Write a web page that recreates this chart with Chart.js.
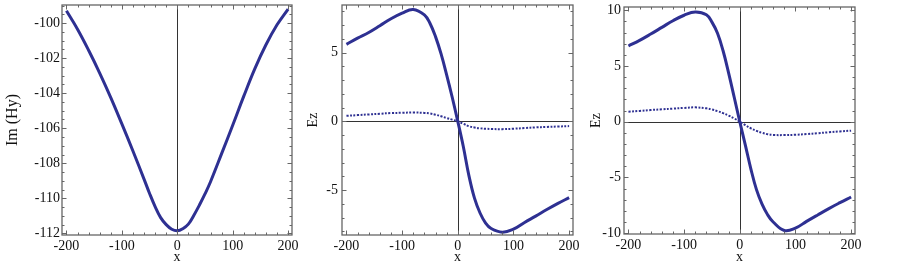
<!DOCTYPE html>
<html>
<head>
<meta charset="utf-8">
<script src="https://cdn.jsdelivr.net/npm/chart.js@4.4.1/dist/chart.umd.min.js"></script>
<style>
  body { margin: 0; background: #fff; }
  #wrap { position: relative; width: 902px; height: 266px; }
  canvas { position: absolute; top: 0; }
</style>
</head>
<body>
<div id="wrap">
  <canvas id="c1" width="300" height="266" style="left:0px"></canvas>
  <canvas id="c2" width="285" height="266" style="left:300px"></canvas>
  <canvas id="c3" width="317" height="266" style="left:585px"></canvas>
</div>
<script>
// positions along the profile
const xs = [-200, -180, -160, -140, -120, -100, -80, -60, -50, -40, -30, -20, -10, 0,
            10, 20, 30, 40, 50, 60, 80, 100, 120, 140, 160, 180, 200]

// panel 1: Im(Hy)
const imHy = [-99.3, -100.35, -101.55, -102.85, -104.25, -105.75, -107.3, -108.9, -109.72, -110.47, -111.1, -111.5, -111.76, -111.85,
              -111.73, -111.47, -110.96, -110.38, -109.75, -109.05, -107.45, -105.83, -104.17, -102.6, -101.24, -100.1, -99.2]

// panel 2: Ez (solid and dotted)
const ezA = [5.6, 6.05, 6.46, 6.95, 7.46, 7.87, 8.14, 7.74, 7.13, 6.16, 4.9, 3.38, 1.75, 0,
             -1.85, -3.95, -5.59, -6.67, -7.4, -7.8, -8.07, -7.85, -7.36, -6.9, -6.42, -5.97, -5.55]
const ezAdot = [0.4, 0.45, 0.5, 0.55, 0.6, 0.62, 0.64, 0.61, 0.57, 0.48, 0.37, 0.24, 0.12, 0,
                -0.18, -0.36, -0.45, -0.51, -0.54, -0.56, -0.57, -0.54, -0.49, -0.44, -0.41, -0.38, -0.35]

// panel 3: Ez (solid and dotted)
const ezB = [6.8, 7.3, 7.87, 8.47, 9.07, 9.56, 9.85, 9.6, 8.94, 7.94, 6.37, 4.37, 2.2, 0,
             -2.1, -4.25, -6.1, -7.4, -8.35, -9.0, -9.76, -9.55, -8.95, -8.37, -7.8, -7.27, -6.76]
const ezBdot = [0.9, 0.97, 1.05, 1.11, 1.18, 1.24, 1.29, 1.2, 1.1, 0.95, 0.77, 0.55, 0.3, 0,
                -0.3, -0.6, -0.82, -1.0, -1.12, -1.19, -1.2, -1.17, -1.11, -1.03, -0.95, -0.87, -0.8]

// ticks
const xTicks = [-200, -100, 0, 100, 200]
const yTicks1 = [-112, -110, -108, -106, -104, -102, -100]
const yTicks2 = [-5, 0, 5]
const yTicks3 = [-10, -5, 0, 5, 10]

const blue = '#2e3092'
const serif = 'Liberation Serif'

const pts = ys => xs.map((x, i) => ({ x: x, y: ys[i] }))

function range(a, b, step) {
  const out = []
  for (let v = a; v <= b + 1e-9; v += step) out.push(+v.toFixed(4))
  return out
}

const framePlugin = {
  id: 'frame',
  beforeDatasetsDraw(chart) {
    const { ctx, chartArea: a, scales: { x, y } } = chart
    ctx.save()
    ctx.strokeStyle = '#333'
    ctx.lineWidth = 1
    ctx.beginPath()
    const px = Math.round(x.getPixelForValue(0)) + 0.5
    ctx.moveTo(px, a.top)
    ctx.lineTo(px, a.bottom)
    if (y.min < 0 && y.max > 0) {
      const py = Math.round(y.getPixelForValue(0)) + 0.5
      ctx.moveTo(a.left, py)
      ctx.lineTo(a.right, py)
    }
    ctx.stroke()
    ctx.restore()
  },
  afterDraw(chart, args, opts) {
    const { ctx, chartArea: a, scales: { x, y } } = chart
    ctx.save()
    ctx.strokeStyle = '#666'
    ctx.lineWidth = 1
    ctx.beginPath()
    const tick = (v, len, horiz) => {
      if (horiz) {
        const p = Math.round(x.getPixelForValue(v)) + 0.5
        ctx.moveTo(p, a.bottom); ctx.lineTo(p, a.bottom - len)
        ctx.moveTo(p, a.top); ctx.lineTo(p, a.top + len)
      } else {
        const p = Math.round(y.getPixelForValue(v)) + 0.5
        ctx.moveTo(a.left, p); ctx.lineTo(a.left + len, p)
        ctx.moveTo(a.right, p); ctx.lineTo(a.right - len, p)
      }
    }
    opts.xMinor.forEach(v => tick(v, 2.5, true))
    xTicks.forEach(v => tick(v, 4.5, true))
    opts.yMinor.forEach(v => tick(v, 2.5, false))
    opts.yMajor.forEach(v => tick(v, 4.5, false))
    ctx.stroke()
    ctx.lineWidth = 1.3
    ctx.strokeRect(a.left, a.top, a.right - a.left, a.bottom - a.top)
    ctx.restore()
  }
}

function makePanel(id, p) {
  const datasets = p.series.map(s => ({
    data: pts(s.values),
    borderColor: blue,
    borderWidth: s.dotted ? 2 : 3,
    borderDash: s.dotted ? [2, 1.5] : [],
    pointRadius: 0,
    tension: 0.4,
    fill: false
  }))
  return new Chart(document.getElementById(id), {
    type: 'line',
    data: { datasets: datasets },
    plugins: [framePlugin],
    options: {
      responsive: false,
      animation: false,
      layout: { padding: { top: p.top, right: p.right, bottom: 0, left: 0 } },
      plugins: {
        legend: { display: false },
        tooltip: { enabled: false },
        frame: { xMinor: range(-200, 200, 20), yMajor: p.yTicks, yMinor: p.yMinor }
      },
      scales: {
        x: {
          type: 'linear',
          min: -208,
          max: 207,
          grid: { display: false, drawTicks: false },
          border: { display: false },
          afterBuildTicks: s => { s.ticks = xTicks.map(v => ({ value: v })) },
          afterFit: s => {
            s.height = p.xHeight
            s.paddingLeft = 0; s.paddingRight = 0
          },
          ticks: { padding: 3, color: '#111', font: { family: serif, size: 14 }, maxRotation: 0 },
          title: { display: true, text: 'x', color: '#111', padding: 0, font: { family: serif, size: 14 } }
        },
        y: {
          min: p.ymin,
          max: p.ymax,
          grid: { display: false, drawTicks: false },
          border: { display: false },
          afterBuildTicks: s => { s.ticks = p.yTicks.map(v => ({ value: v })) },
          afterFit: s => {
            s.width = p.yWidth
            s.paddingTop = 0; s.paddingBottom = 0
          },
          ticks: { padding: p.tickPad, color: '#111', font: { family: serif, size: 14 } },
          title: { display: true, text: p.title, color: '#111', padding: { top: p.titlePad, bottom: 0 }, font: { family: serif, size: p.titleSize } }
        }
      }
    }
  })
}

makePanel('c1', {
  series: [{ values: imHy }],
  ymin: -112.09, ymax: -98.97, yTicks: yTicks1, yMinor: range(-112, -99, 0.5),
  title: 'Im (Hy)', titleSize: 16, titlePad: 3, tickPad: 2,
  yWidth: 62, xHeight: 31, top: 5, right: 8
})

makePanel('c2', {
  series: [{ values: ezA }, { values: ezAdot, dotted: true }],
  ymin: -8.27, ymax: 8.46, yTicks: yTicks2, yMinor: range(-8, 8, 1),
  title: 'Ez', titleSize: 14, titlePad: 5, tickPad: 4,
  yWidth: 42, xHeight: 31, top: 5, right: 12
})

makePanel('c3', {
  series: [{ values: ezB }, { values: ezBdot, dotted: true }],
  ymin: -10.08, ymax: 10.3, yTicks: yTicks3, yMinor: range(-10, 10, 1),
  title: 'Ez', titleSize: 14, titlePad: 3, tickPad: 3,
  yWidth: 39, xHeight: 32, top: 7, right: 47
})
</script>
</body>
</html>
